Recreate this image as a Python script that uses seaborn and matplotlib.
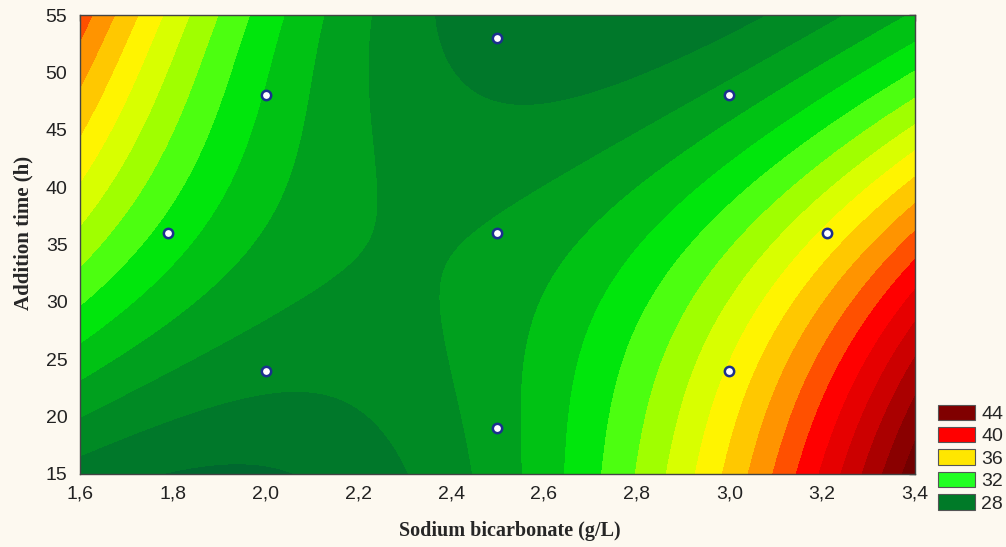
import numpy as np
import matplotlib
matplotlib.use("Agg")
import matplotlib.pyplot as plt
import seaborn as sns
from matplotlib.patches import Patch
from matplotlib.ticker import FuncFormatter

run_soda = [2.0, 2.0, 3.0, 3.0, 1.79, 3.21, 2.5, 2.5, 2.5]
run_time = [24, 48, 24, 48, 36, 36, 19, 53, 36]
run_resp = [29.2, 31.3, 36.5, 30.7, 32.5, 36.7, 30.5, 28.5, 29.8]

# contour readings taken along the plot edges and inside the plot
read_soda = [1.6, 1.73, 1.9, 2.07, 2.29, 2.41, 2.5, 2.535, 2.6, 2.66, 2.75, 2.92, 3.0, 3.13, 3.2, 3.4,
             1.6, 1.68, 1.79, 1.9, 2.0, 2.145, 2.25, 2.39, 2.68, 3.14, 3.24, 3.34, 3.4,
             1.6, 1.6, 1.6, 1.6, 1.6, 1.6, 1.6, 1.6, 1.6, 1.6,
             3.4, 3.4, 3.4, 3.4, 3.4, 3.4, 3.4,
             2.03, 2.1, 2.28, 1.815, 1.97, 2.2, 2.43, 2.42, 2.5, 2.86, 3.15,
             2.48, 2.57, 2.81, 3.01, 2.8, 2.7, 3.2, 3.3, 2.8, 1.8, 2.2, 1.8]
read_time = [15, 15, 15, 15, 15, 15, 15, 15, 15, 15, 15, 15, 15, 15, 15, 15,
             55, 55, 55, 55, 55, 55, 55, 55, 55, 55, 55, 55, 55,
             16.6, 18.3, 20, 22.7, 25.7, 30, 33.5, 37, 41.3, 48.5,
             52.6, 46.7, 41.5, 38, 34.6, 29.4, 22.1,
             22.7, 22.8, 17.4, 23.3, 16.6, 33, 31, 25, 33.7, 46.7, 51.3,
             48.7, 48.2, 50.2, 52.6, 30, 25, 25, 45, 40, 45, 45, 28]
read_resp = [28.5, 28.0, 27.7, 28.0, 29.0, 30.0, 30.6, 31.0, 31.8, 32.0, 33.0, 36.0, 37.0, 40.0, 41.0, 45.6,
             39.5, 38.0, 36.0, 34.0, 32.0, 31.0, 30.0, 29.0, 27.6, 29.0, 30.0, 31.0, 31.4,
             29.0, 29.5, 30.0, 31.0, 32.0, 33.0, 34.0, 35.0, 36.0, 38.0,
             32.0, 34.0, 36.0, 38.0, 40.0, 42.0, 44.0,
             29.0, 29.0, 29.0, 30.0, 28.0, 30.0, 30.0, 30.0, 30.0, 30.0, 30.0,
             29.0, 29.0, 29.0, 29.0, 32.5, 32.2, 38.5, 34.5, 31.5, 34.5, 30.5, 31.3]

legend_vals = [44, 40, 36, 32, 28]
legend_cols = ['#800000', '#ff0000', '#ffe600', '#22ff22', '#007a28']

x_ticks = [1.6, 1.8, 2.0, 2.2, 2.4, 2.6, 2.8, 3.0, 3.2, 3.4]
y_ticks = [15, 20, 25, 30, 35, 40, 45, 50, 55]

# band colours, one per unit step 27..47
band_cols = ['#00682f', '#00782a', '#008a24', '#00a01e', '#00c214', '#00e60c',
             '#4cff10', '#a0ff00', '#d8ff00', '#fff400', '#ffc800', '#ff9400',
             '#ff5000', '#ff0000', '#e60000', '#cc0000', '#aa0000', '#8a0000',
             '#720000', '#600000']
levels = np.arange(27, 48)

# --- smooth polynomial surface fitted to the readings ---
X = np.array(run_soda + read_soda)
Y = np.array(run_time + read_time)
Z = np.array(run_resp + read_resp)


def terms(sx, ty):
    a = (sx - 2.5) / 0.5
    b = (ty - 36) / 12
    return [a**i * b**j for i in range(5) for j in range(5 - i)]


A = np.column_stack(terms(X, Y))
coef, *_ = np.linalg.lstsq(A, Z, rcond=None)

gx = np.linspace(1.6, 3.4, 400)
gy = np.linspace(15, 55, 400)
GX, GY = np.meshgrid(gx, gy)
GZ = sum(c * t for c, t in zip(coef, terms(GX, GY)))

# --- plot ---
sns.set_style('white')
plt.rcParams['font.family'] = ['Liberation Sans', 'DejaVu Sans']
bg = '#fdf9f0'

fig = plt.figure(figsize=(10.06, 5.47), dpi=100, facecolor=bg)
ax = fig.add_axes([0.0795, 0.1335, 0.83, 0.839])

cs = ax.contourf(GX, GY, GZ, levels=levels, colors=band_cols, extend='both')
cs.cmap.set_under(band_cols[0])
cs.cmap.set_over(band_cols[-1])

sns.scatterplot(x=run_soda, y=run_time, ax=ax, s=45, color='white',
                edgecolor='#1b2f8f', linewidth=1.8, zorder=5)

ax.set_xlim(1.6, 3.4)
ax.set_ylim(15, 55)
ax.set_xticks(x_ticks)
ax.set_yticks(y_ticks)
ax.xaxis.set_major_formatter(FuncFormatter(lambda v, p: f'{v:.1f}'.replace('.', ',')))
ax.tick_params(direction='in', length=4, width=1, colors='#333333', labelcolor='#222222',
               labelsize=14, top=True, right=True)
ax.tick_params(axis='y', pad=9)
ax.tick_params(axis='x', pad=8)
for s in ax.spines.values():
    s.set_color('#444444')
    s.set_linewidth(1)

ax.set_xlabel('Sodium bicarbonate (g/L)', family='Liberation Serif', weight='bold',
              fontsize=14.5)
ax.set_ylabel('Addition time (h)', family='Liberation Serif', weight='bold',
              fontsize=15)
ax.xaxis.set_label_coords(0.515, -0.102)
ax.yaxis.set_label_coords(-0.056, 0.525)

handles = [Patch(facecolor=c, edgecolor='#555555', linewidth=0.8) for c in legend_cols]
fig.legend(handles, [str(v) for v in legend_vals], loc='lower left',
           bbox_to_anchor=(0.932, 0.063), frameon=False, fontsize=14,
           handlelength=1.9, handleheight=0.85, labelspacing=0.2, handletextpad=0.35,
           borderaxespad=0, borderpad=0)

fig.savefig('out.png', dpi=100, facecolor=bg)
